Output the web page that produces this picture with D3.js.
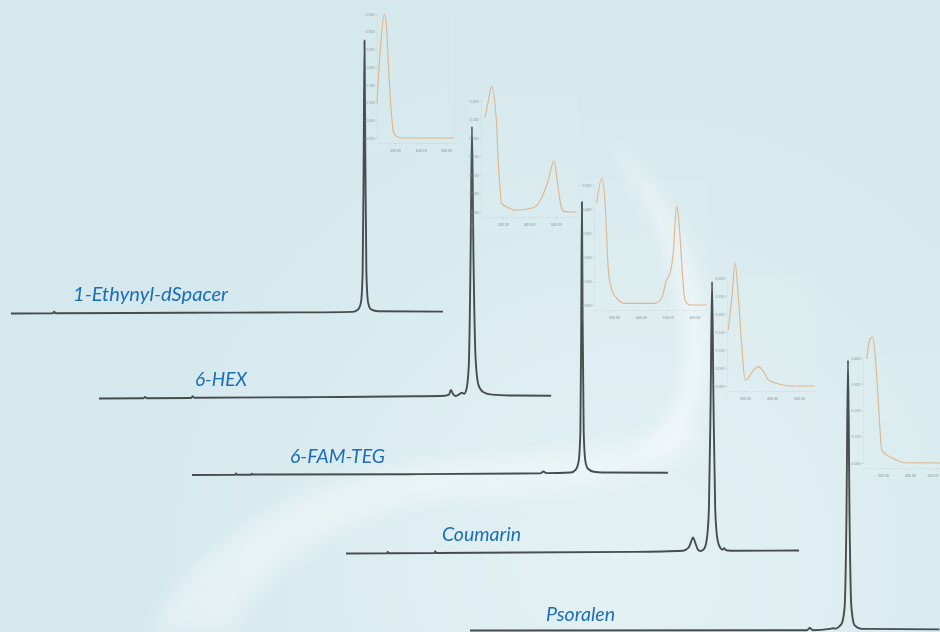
<!DOCTYPE html>
<html>
<head>
<meta charset="utf-8">
<script src="https://cdn.jsdelivr.net/npm/d3@7"></script>
<style>
  html, body { margin: 0; padding: 0; background: #d6e9ee; }
  svg { display: block; }
</style>
</head>
<body>
<svg id="chart" width="940" height="632"></svg>
<script>
// ---- chromatograms: [time (min), signal in % of main peak] ----
const traceNames = ["1-Ethynyl-dSpacer", "6-HEX", "6-FAM-TEG", "Coumarin", "Psoralen"];

const ethynylTrace = [[0,0],[2.9,0.1],[3,0.7],[3.1,0.1],[12,0.3],[20,0.4],[23.7,0.6],[24.1,1.5],[24.3,4],[24.42,15],[24.49,55],[24.55,100],[24.61,55],[24.68,15],[24.8,4],[25,1.5],[25.5,0.8],[30,0.7]];
const hexTrace = [[0,0],[3.1,0.1],[3.2,0.6],[3.3,0.1],[6.4,0.2],[6.5,0.8],[6.6,0.3],[15,0.5],[22,0.8],[24,1],[24.3,1.4],[24.44,3.1],[24.6,1.5],[24.79,0.9],[25,1.5],[25.2,2.1],[25.35,1.7],[25.5,3],[25.68,12],[25.8,50],[25.9,99.6],[26.01,50],[26.15,15],[26.35,5],[26.7,2.3],[27.3,1.4],[28.5,1.1],[31.4,1]];
const famTrace = [[0,0],[3,0.1],[3.05,0.6],[3.1,0.1],[4.1,0.1],[4.15,0.5],[4.2,0.2],[15,0.3],[24.2,0.6],[24.4,1.3],[24.6,0.7],[26.3,0.9],[26.65,2],[26.85,5],[26.97,16],[27.03,55],[27.08,100],[27.13,55],[27.2,16],[27.32,5],[27.5,2.3],[27.9,1.2],[28.5,0.9],[33.05,0.8]];
const coumarinTrace = [[0,0],[2.85,0.1],[2.9,0.7],[2.95,0.1],[6.15,0.2],[6.2,0.8],[6.25,0.2],[20,0.6],[23.4,1],[23.8,2.2],[24,4.8],[24.1,5.9],[24.25,4],[24.45,1.3],[24.6,0.9],[24.85,1.6],[25.05,5],[25.2,16],[25.32,55],[25.42,99.5],[25.52,55],[25.64,16],[25.8,5],[26,2],[26.15,1.4],[26.25,1.9],[26.4,1.2],[27,1],[31.46,1.1]];
const psoralenTrace = [[0,0],[23.4,0.1],[23.6,0.9],[23.8,0.1],[25,0.6],[25.2,0.8],[25.4,0.7],[25.65,1.5],[25.85,3],[26.02,9],[26.14,40],[26.25,99],[26.36,40],[26.48,9],[26.7,2],[27.2,0.6],[32.6,0.4]];

// ---- UV spectra of the main peak: [wavelength (nm), absorbance] ----
const ethynylSpectrum = [[230,0.099],[245,0.27],[258,0.35],[265,0.333],[275,0.2],[285,0.079],[295,0.015],[310,0.003],[330,0],[530,0]];
const hexSpectrum = [[233,0.254],[245,0.298],[258,0.339],[277,0.235],[282,0.146],[289,0.073],[295,0.024],[314,0.014],[345,0.005],[408,0.01],[446,0.038],[469,0.081],[493,0.138],[507,0.073],[521,0.011],[533,0.001],[577,0]];
const famSpectrum = [[237,0.425],[256,0.528],[268,0.425],[274,0.285],[280,0.146],[293,0.063],[311,0.029],[342,0.007],[453,0.007],[478,0.029],[496,0.104],[509,0.133],[521,0.217],[533,0.41],[539,0.383],[546,0.285],[554,0.146],[564,0.021],[583,0],[645,0]];
const coumarinSpectrum = [[238,0.156],[251,0.248],[263,0.341],[275,0.248],[288,0.109],[300,0.017],[312,0.022],[331,0.044],[349,0.054],[368,0.04],[386,0.017],[417,0.0075],[467,0],[559,0]];
const psoralenSpectrum = [[240,0.396],[252,0.473],[260,0.48],[270,0.423],[279,0.293],[289,0.127],[295,0.05],[314,0.031],[351,0.0115],[375,0.001],[511,0],[585,0]];

const insetYTicks = [
  [0,0.05,0.1,0.15,0.2,0.25,0.3,0.35],
  [0,0.05,0.1,0.15,0.2,0.25,0.3],
  [0,0.1,0.2,0.3,0.4,0.5],
  [0,0.05,0.1,0.15,0.2,0.25,0.3],
  [0,0.1,0.2,0.3,0.4]
];
const insetXTicks = [
  [300,400,500],
  [300,400,500],
  [300,400,500,600],
  [300,400,500],
  [300,400,500]
];

const traces = [ethynylTrace, hexTrace, famTrace, coumarinTrace, psoralenTrace];
const spectra = [ethynylSpectrum, hexSpectrum, famSpectrum, coumarinSpectrum, psoralenSpectrum];

// ---- layout (pixels) ----
const pxPerMin = 14.4;
const peakPx = 273;
const traceLayout = [
  {x0: 11,  base: 313.5, label: [73, 301, 155]},
  {x0: 99,  base: 398.5, label: [195, 385.5, 52]},
  {x0: 192, base: 475,   label: [290, 463, 95]},
  {x0: 346, base: 553.5, label: [442, 541, 79]},
  {x0: 470, base: 630.5, label: [546, 620.5, 69]}
];
const insetLayout = [
  {xr: [377, 454], nm: [230, 530], yr: [138, 14]},
  {xr: [481, 578], nm: [218, 583], yr: [212, 101]},
  {xr: [594, 707], nm: [227, 646], yr: [305, 185]},
  {xr: [727, 815], nm: [233, 559], yr: [386, 278]},
  {xr: [863, 960], nm: [226, 585], yr: [463, 358]}
];

const svg = d3.select("#chart");
const defs = svg.append("defs");

// background
const bg = defs.append("radialGradient").attr("id", "bg")
  .attr("gradientUnits", "userSpaceOnUse")
  .attr("cx", 620).attr("cy", 560).attr("r", 520);
bg.append("stop").attr("offset", "0%").attr("stop-color", "#e4f1f4");
bg.append("stop").attr("offset", "100%").attr("stop-color", "#d4e8ed");
defs.append("filter").attr("id", "blur").attr("x", "-20%").attr("y", "-20%").attr("width", "140%").attr("height", "140%")
  .append("feGaussianBlur").attr("stdDeviation", 9);

svg.append("rect").attr("width", 940).attr("height", 632).attr("fill", "url(#bg)");
const swoosh = svg.append("g").attr("filter", "url(#blur)").attr("fill", "#ffffff");
swoosh.append("path")
  .attr("d", "M600,125 C655,175 705,260 708,345 C710,400 690,430 655,452 L645,444 C675,420 688,385 684,330 C678,255 640,180 600,125 Z")
  .attr("opacity", 0.5);
swoosh.append("path")
  .attr("d", "M150,632 C205,525 330,465 470,458 C580,453 650,445 692,418 L704,438 C662,480 585,492 482,497 C362,502 262,560 232,632 Z")
  .attr("opacity", 0.35);

// chromatograms
traces.forEach((data, i) => {
  const lay = traceLayout[i];
  const tEnd = d3.max(data, d => d[0]);
  const x = d3.scaleLinear().domain([0, tEnd]).range([lay.x0, lay.x0 + tEnd * pxPerMin]);
  const y = d3.scaleLinear().domain([0, 100]).range([lay.base, lay.base - peakPx]);
  const line = d3.line().x(d => x(d[0])).y(d => y(d[1])).curve(d3.curveMonotoneX);
  svg.append("path")
    .datum(data)
    .attr("d", line)
    .attr("fill", "none")
    .attr("stroke", "#464d4f")
    .attr("stroke-width", 1.9)
    .attr("stroke-linejoin", "round");
  svg.append("text")
    .attr("x", lay.label[0])
    .attr("y", lay.label[1])
    .attr("textLength", lay.label[2])
    .attr("lengthAdjust", "spacingAndGlyphs")
    .attr("font-family", "Lato, 'Open Sans', sans-serif")
    .attr("font-style", "italic")
    .attr("font-size", 18.5)
    .attr("fill", "#1b6db4")
    .text(traceNames[i]);
});

// UV spectrum insets
spectra.forEach((data, i) => {
  const lay = insetLayout[i];
  const yTicks = insetYTicks[i];
  const x = d3.scaleLinear().domain(lay.nm).range(lay.xr);
  const y = d3.scaleLinear().domain([0, d3.max(yTicks)]).range(lay.yr);
  const g = svg.append("g");

  g.append("rect")
    .attr("x", lay.xr[0] - 12).attr("y", lay.yr[1] - 4)
    .attr("width", lay.xr[1] - lay.xr[0] + 12).attr("height", lay.yr[0] - lay.yr[1] + 20)
    .attr("fill", "#ffffff").attr("opacity", 0.05);

  const yAxis = g.append("g")
    .attr("transform", `translate(${lay.xr[0]},0)`)
    .call(d3.axisLeft(y).tickValues(yTicks).tickSize(1.5).tickPadding(1).tickFormat(d3.format(".3f")));
  const xAxis = g.append("g")
    .attr("transform", `translate(0,${lay.yr[0] + 5})`)
    .call(d3.axisBottom(x).tickValues(insetXTicks[i]).tickSize(1.5).tickPadding(5).tickFormat(d3.format(".2f")));
  [yAxis, xAxis].forEach(a => {
    a.select(".domain").attr("stroke", "#bccbd0").attr("stroke-width", 0.6).attr("stroke-dasharray", "1,1.5");
    a.selectAll(".tick line").attr("stroke", "#aebdc2").attr("stroke-width", 0.5);
    a.selectAll(".tick text").attr("fill", "#8a979b").attr("font-size", 3.6).attr("font-family", "Roboto, sans-serif");
  });
  // keep the last wavelength label inside the page
  xAxis.selectAll(".tick text")
    .filter(d => x(d) > 930)
    .attr("text-anchor", "end")
    .attr("dx", d => 938 - x(d));

  g.append("path")
    .datum(data)
    .attr("d", d3.line().x(d => x(d[0])).y(d => y(d[1])).curve(d3.curveMonotoneX))
    .attr("fill", "none")
    .attr("stroke", "#dfb68c")
    .attr("stroke-width", 1.15)
    .attr("stroke-linejoin", "round");
});
</script>
</body>
</html>
